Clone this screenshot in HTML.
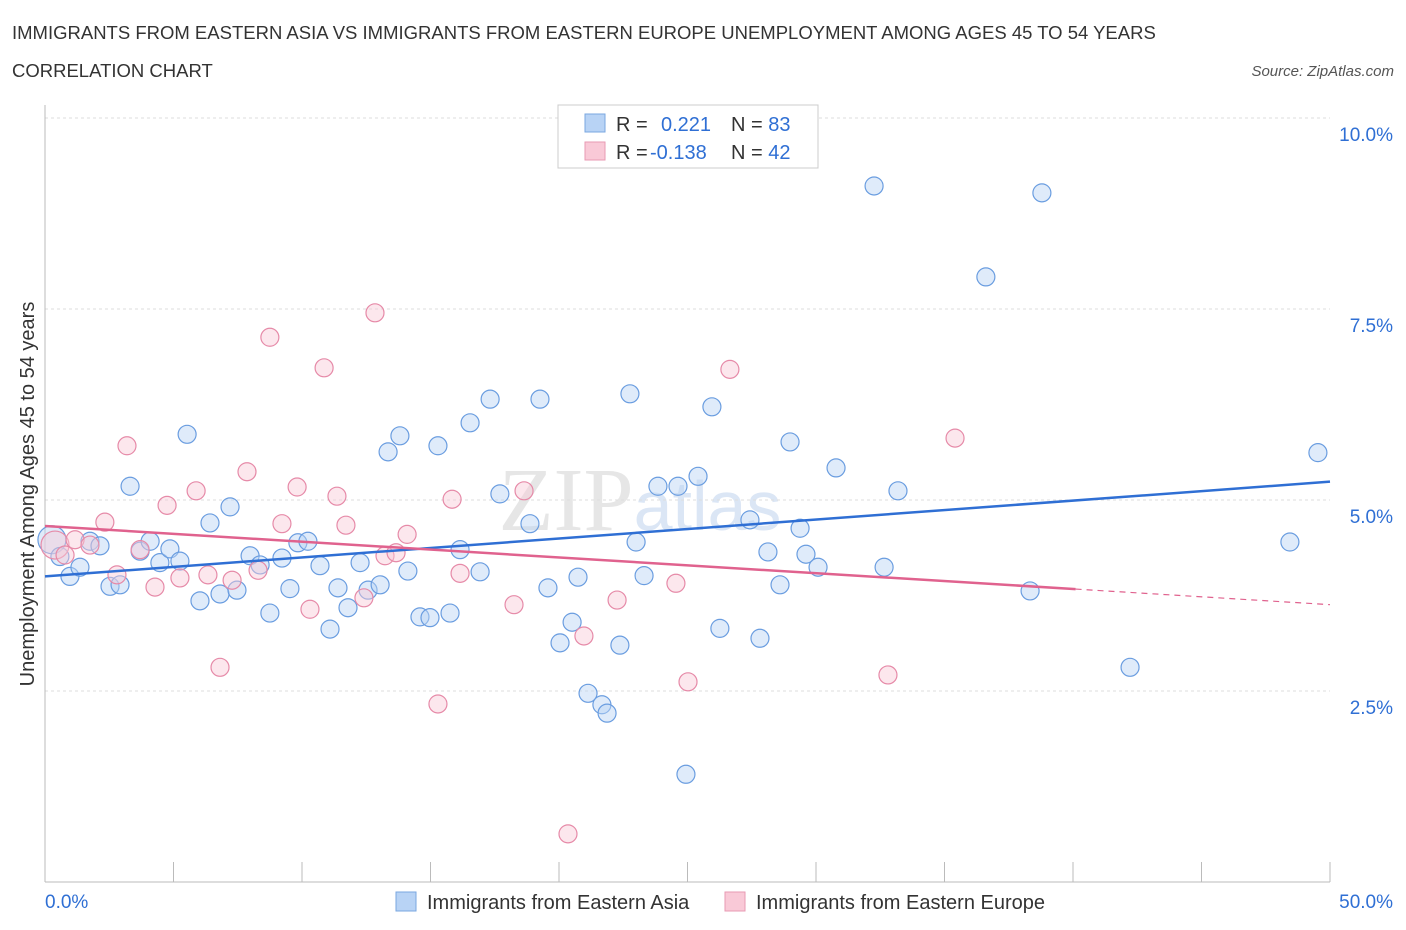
<!DOCTYPE html>
<html><head><meta charset="utf-8"><style>
body{margin:0;background:#fff;font-family:"Liberation Sans",sans-serif;}
svg{display:block}
</style></head><body>
<svg width="1406" height="930" id="chart">
<text x="12" y="39" font-size="18.5" fill="#333">IMMIGRANTS FROM EASTERN ASIA VS IMMIGRANTS FROM EASTERN EUROPE UNEMPLOYMENT AMONG AGES 45 TO 54 YEARS</text>
<text x="12" y="77" font-size="18.5" fill="#333">CORRELATION CHART</text>
<text x="1394" y="76" font-size="15" fill="#555" font-style="italic" text-anchor="end">Source: ZipAtlas.com</text>
<text x="640" y="530" font-size="90" fill="#e6e6e6" font-family="Liberation Serif" text-anchor="middle">ZIP<tspan font-family="Liberation Sans" font-size="70" fill="#dbe6f5">atlas</tspan></text>
<g id="grid"></g>
<g id="axes"></g>
<g id="pts"></g>
<g id="lines"></g>
<text transform="translate(34,494) rotate(-90)" font-size="20" fill="#333" text-anchor="middle">Unemployment Among Ages 45 to 54 years</text>
<g>
<rect x="558" y="105" width="260" height="63" fill="#fff" stroke="#ccc"/>
<rect x="585" y="114" width="20" height="18" fill="#b8d3f5" stroke="#7aa7e0"/>
<rect x="585" y="142" width="20" height="18" fill="#f9c9d7" stroke="#e89ab3"/>
<text x="616" y="131" font-size="20" fill="#333">R = <tspan fill="#2f6fd4" x="661">0.221</tspan><tspan x="731" fill="#333">N = </tspan><tspan fill="#2f6fd4">83</tspan></text>
<text x="616" y="159" font-size="20" fill="#333">R = <tspan fill="#2f6fd4" x="650">-0.138</tspan><tspan x="731" fill="#333">N = </tspan><tspan fill="#2f6fd4">42</tspan></text>
</g>
<g>
<rect x="396" y="892" width="20" height="19" fill="#b8d3f5" stroke="#7aa7e0"/>
<text x="427" y="909" font-size="20" fill="#333">Immigrants from Eastern Asia</text>
<rect x="725" y="892" width="20" height="19" fill="#f9c9d7" stroke="#e89ab3"/>
<text x="756" y="909" font-size="20" fill="#333">Immigrants from Eastern Europe</text>
</g>
</svg>
<script>
const blueX=[0.27,0.58,0.97,1.36,1.75,2.14,2.53,2.92,3.31,3.70,4.09,4.47,4.86,5.25,5.53,6.03,6.42,6.81,7.20,7.47,7.98,8.37,8.75,9.22,9.53,9.84,10.23,10.70,11.09,11.40,11.79,12.26,12.57,13.04,13.35,13.81,14.12,14.59,14.98,15.29,15.76,16.15,16.54,16.93,17.32,17.70,18.87,19.26,19.57,20.04,20.51,20.74,21.13,21.67,21.87,22.37,22.76,23.00,23.31,23.85,24.63,24.94,25.41,25.95,26.26,27.43,27.82,28.13,28.60,28.99,29.38,29.61,30.08,30.78,32.26,32.65,33.19,36.61,38.33,38.79,42.22,48.44,49.53];
const blueY=[4.48,4.26,4.00,4.12,4.46,4.40,3.87,3.89,5.18,4.33,4.46,4.18,4.36,4.20,5.86,3.68,4.70,3.77,4.91,3.82,4.27,4.15,3.52,4.24,3.84,4.44,4.46,4.14,3.31,3.85,3.59,4.18,3.82,3.89,5.63,5.84,4.07,3.47,3.46,5.71,3.52,4.35,6.01,4.06,6.32,5.08,4.69,6.32,3.85,3.13,3.40,3.99,2.47,2.32,2.21,3.10,6.39,4.45,4.01,5.18,5.18,1.41,5.31,6.22,3.32,4.74,3.19,4.32,3.89,5.76,4.63,4.29,4.12,5.42,9.11,4.12,5.12,7.92,3.81,9.02,2.81,4.45,5.62];
const pinkX=[0.39,0.78,1.17,1.75,2.33,2.80,3.19,3.70,4.28,4.75,5.25,5.88,6.34,6.81,7.28,7.86,8.29,8.75,9.22,9.81,10.31,10.86,11.36,11.71,12.41,12.84,13.23,13.66,14.09,15.29,15.84,16.15,18.25,18.64,20.35,20.97,22.26,24.55,25.02,26.65,32.80,35.41];
const pinkY=[4.41,4.28,4.48,4.41,4.71,4.02,5.71,4.35,3.86,4.93,3.98,5.12,4.02,2.81,3.95,5.37,4.08,7.13,4.69,5.17,3.57,6.73,5.05,4.67,3.72,7.45,4.27,4.31,4.55,2.33,5.01,4.04,3.63,5.12,0.63,3.22,3.69,3.91,2.62,6.71,2.71,5.81];
const yTicks=[2.5,5.0,7.5,10.0];
const blueTrend=[4.00,5.24];
const pinkTrend=[4.66,3.63];
const ns='http://www.w3.org/2000/svg';
const X=v=>45+v/50*1285, Y=v=>882-v*76.4;
function mk(t,a,p){const e=document.createElementNS(ns,t);for(const k in a)e.setAttribute(k,a[k]);document.getElementById(p).appendChild(e);return e;}
yTicks.forEach(t=>{
 const g=mk('line',{x1:45,x2:1330,y1:Y(t),y2:Y(t),stroke:'#ddd','stroke-dasharray':'3,3'},'grid');
 
 
 const l=mk('text',{x:1393,y:Y(t)+23,'font-size':19,fill:'#2f6fd4','text-anchor':'end'},'grid');
 l.textContent=t.toFixed(1)+'%';
 
 
});
mk('line',{x1:45,x2:45,y1:105,y2:882,stroke:'#bbb'},'axes');
mk('line',{x1:45,x2:1330,y1:882,y2:882,stroke:'#bbb'},'axes');
for(let i=0;i<=10;i++){mk('line',{x1:X(i*5),x2:X(i*5),y1:862,y2:882,stroke:'#bbb'},'axes');}
[[0,'0.0%','start',45],[50,'50.0%','end',1393]].forEach(a=>{
 const l=mk('text',{x:a[3],y:908,'font-size':19,fill:'#2f6fd4','text-anchor':a[2]},'axes');
 l.textContent=a[1];
 
 
});
function dots(xs,ys,f,s,name){xs.forEach((x,i)=>{
 const r=(i===0)?14:9;
 const c=mk('circle',{cx:X(x),cy:Y(ys[i]),r:r,fill:f,'fill-opacity':0.45,stroke:s,'stroke-width':1.2},'pts');
 
 
});}
dots(blueX,blueY,'#b8d3f5','#6a9de0','point-eastern-asia');
dots(pinkX,pinkY,'#f9c9d7','#e68aa8','point-eastern-europe');
const bl=mk('line',{x1:X(0),y1:Y(blueTrend[0]),x2:X(50),y2:Y(blueTrend[1]),stroke:'#2f6fd4','stroke-width':2.5},'lines');


const pm=v=>pinkTrend[0]+(pinkTrend[1]-pinkTrend[0])*v/50;
const pl=mk('line',{x1:X(0),y1:Y(pm(0)),x2:X(40.1),y2:Y(pm(40.1)),stroke:'#e0628e','stroke-width':2.5},'lines');


const pd=mk('line',{x1:X(40.1),y1:Y(pm(40.1)),x2:X(50),y2:Y(pm(50)),stroke:'#e0628e','stroke-width':1.2,'stroke-dasharray':'6,5'},'lines');


</script>
</body></html>
